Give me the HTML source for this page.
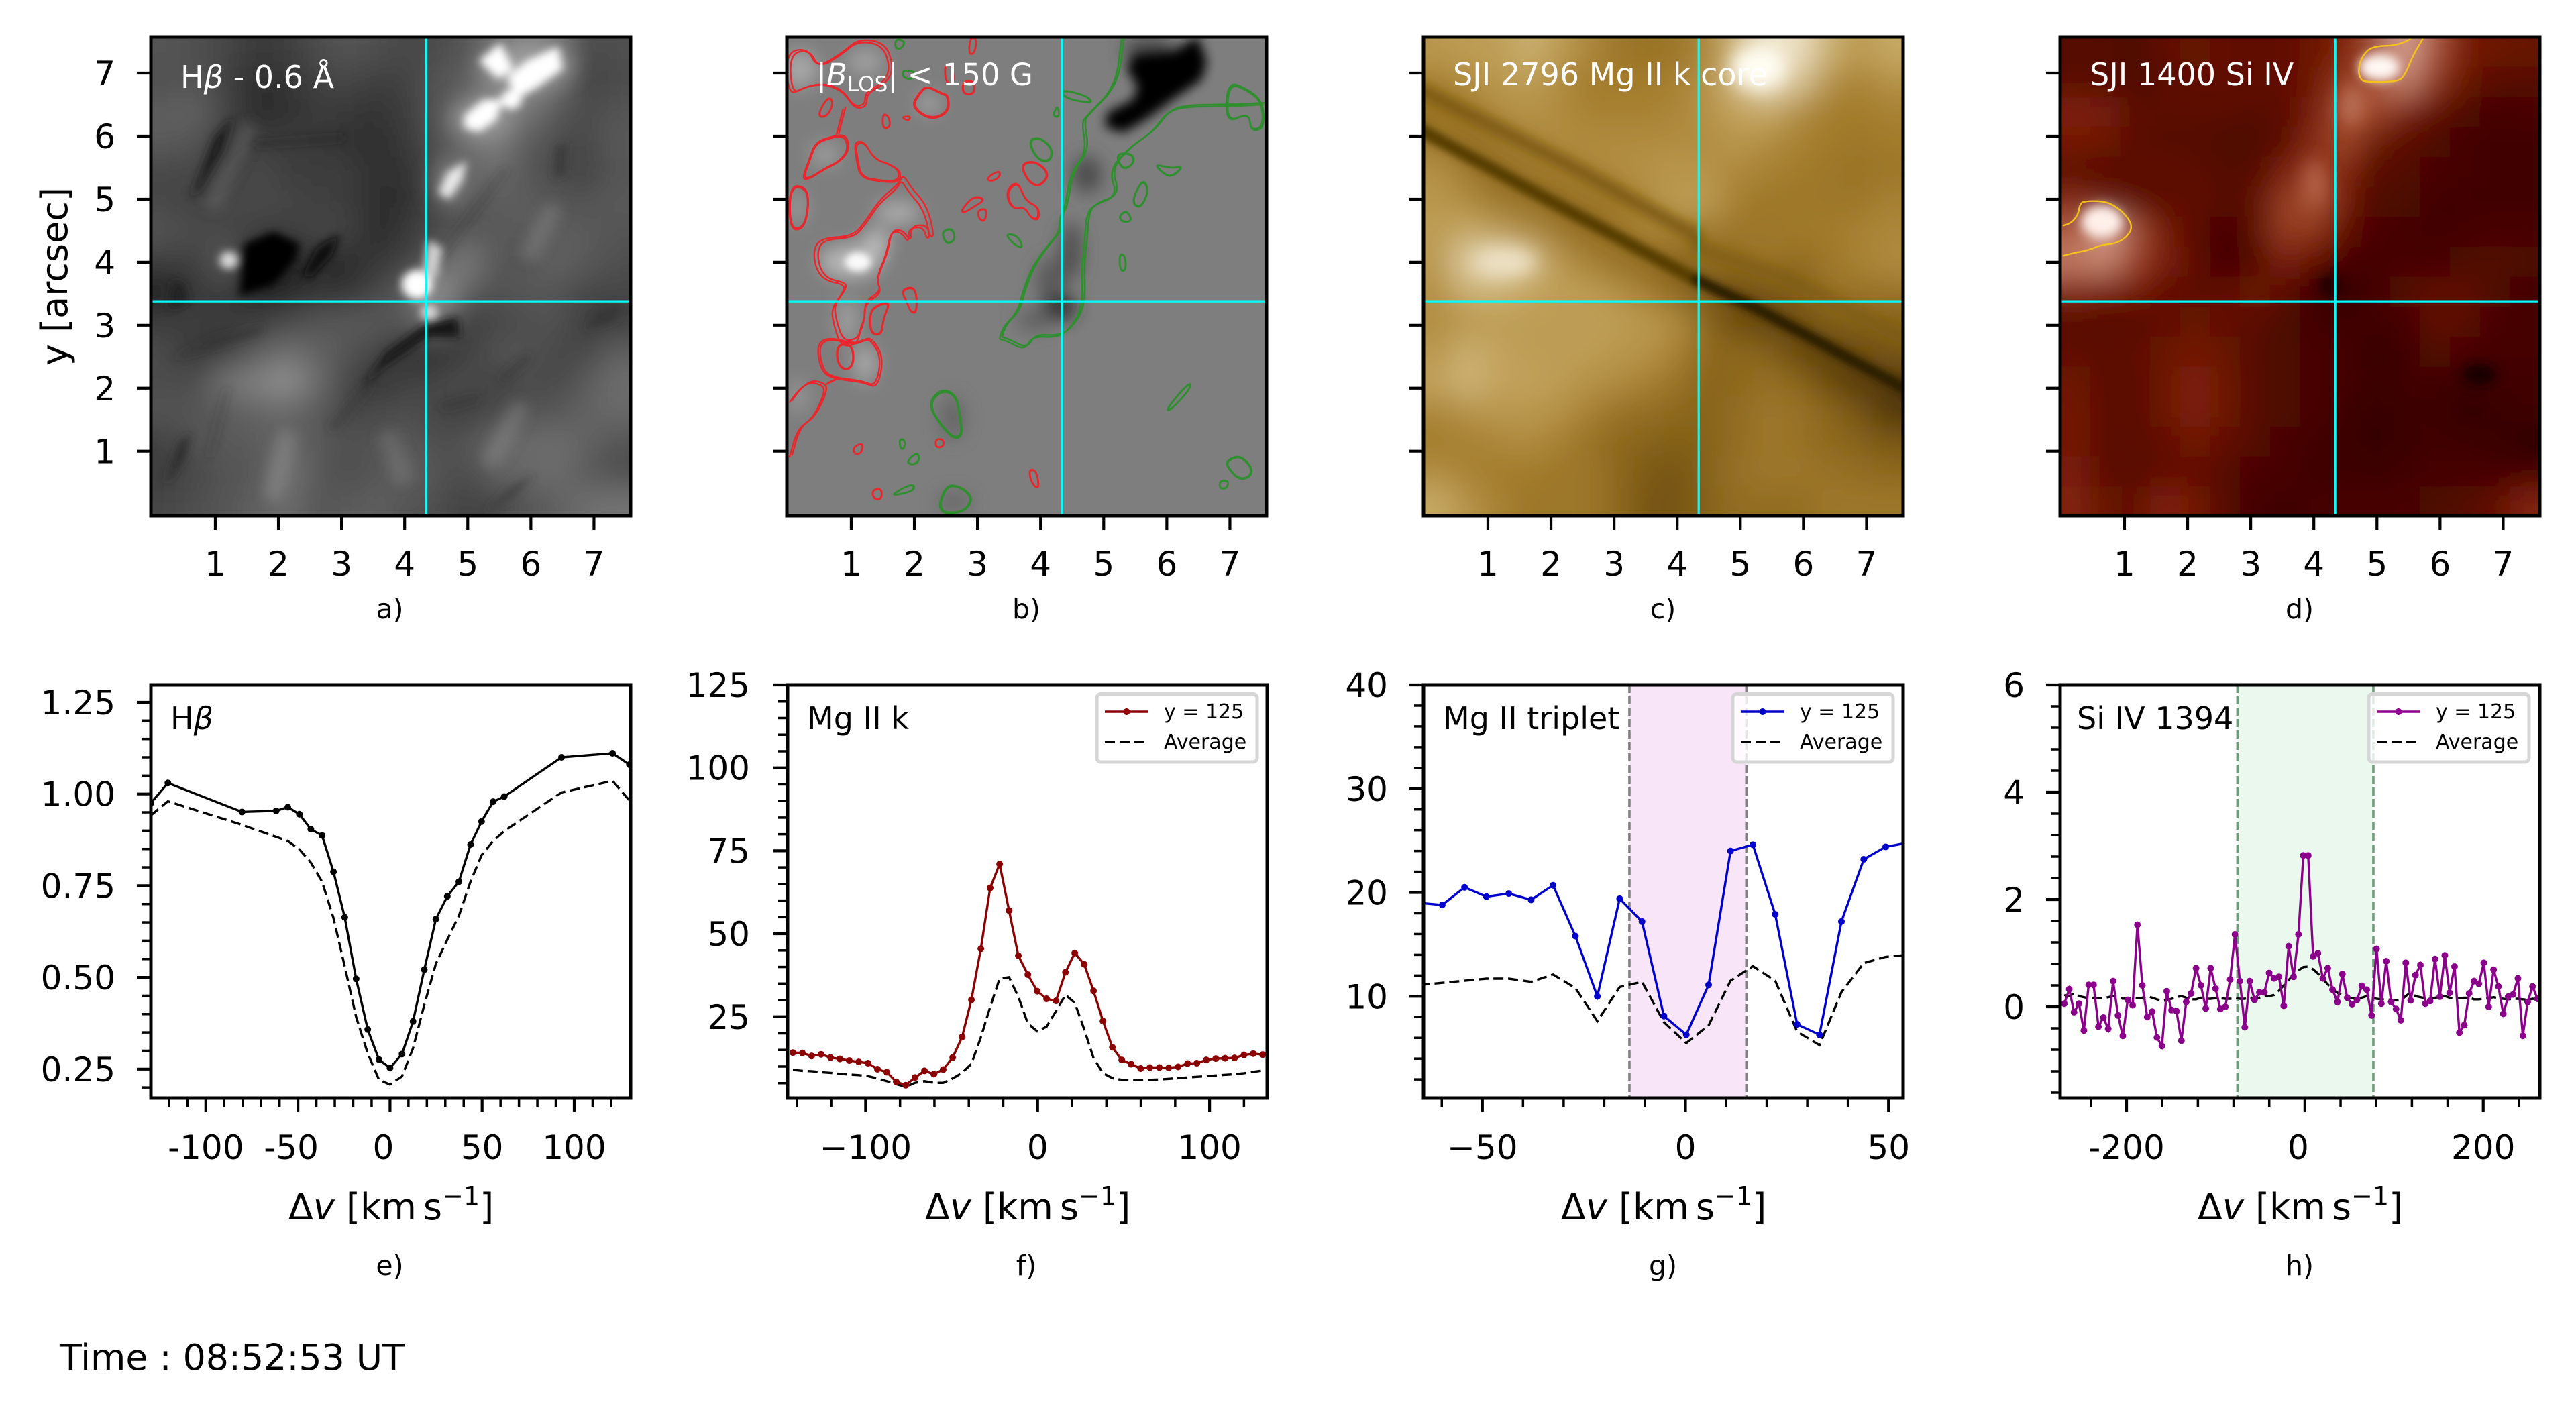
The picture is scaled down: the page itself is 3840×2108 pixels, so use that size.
<!DOCTYPE html>
<html>
<head>
<meta charset="utf-8">
<title>Solar spectra and images</title>
<style>
html,body{margin:0;padding:0;background:#fff;}
svg{display:block;}
text{font-family:"DejaVu Sans","Liberation Sans",sans-serif;fill:#000;}
.ann{font-size:46px;}
.white{fill:#fff;}
.sub{font-size:41px;text-anchor:middle;}
.axl{font-size:54px;}
</style>
</head>
<body>
<svg id="figure" xmlns="http://www.w3.org/2000/svg" width="3840" height="2108" viewBox="0 0 3840 2108">
<defs>
<filter id="gridBlur" x="0" y="0" width="1" height="1"><feGaussianBlur stdDeviation="17"/><feGaussianBlur stdDeviation="17"/></filter>
<filter id="b6" filterUnits="userSpaceOnUse" x="-500" y="-500" width="3000" height="3000"><feGaussianBlur stdDeviation="6"/></filter>
<filter id="b10" filterUnits="userSpaceOnUse" x="-500" y="-500" width="3000" height="3000"><feGaussianBlur stdDeviation="10"/></filter>
<filter id="b15" filterUnits="userSpaceOnUse" x="-500" y="-500" width="3000" height="3000"><feGaussianBlur stdDeviation="15"/></filter>
<filter id="b25" filterUnits="userSpaceOnUse" x="-500" y="-500" width="3000" height="3000"><feGaussianBlur stdDeviation="25"/></filter>
<clipPath id="clip-a"><rect x="225" y="55" width="715" height="714"/></clipPath>
<clipPath id="clip-b"><rect x="1173" y="55" width="715" height="714"/></clipPath>
<clipPath id="clip-c"><rect x="2122" y="55" width="715" height="714"/></clipPath>
<clipPath id="clip-d"><rect x="3071" y="55" width="715" height="714"/></clipPath>
</defs>
<rect width="3840" height="2108" fill="#fff"/>

<g id="images">
<!-- panel a -->
<g clip-path="url(#clip-a)">
<g id="grid-a" filter="url(#gridBlur)"></g>
<g transform="scale(0.6378,0.6059)">
<g filter="url(#b25)">
<ellipse cx="1120" cy="290" rx="70" ry="50" fill="#a8a8a8" opacity="0.7"/>
<ellipse cx="1230" cy="160" rx="110" ry="50" fill="#a8a8a8" opacity="0.7"/>
<ellipse cx="1050" cy="450" rx="40" ry="60" fill="#999" opacity="0.6"/>
</g>
<g filter="url(#b15)" fill="none" stroke-linecap="round">
<line x1="1150" y1="1130" x2="1210" y2="1010" stroke="#a0a0a0" stroke-width="44" opacity="0.3"/>
<line x1="1240" y1="620" x2="1290" y2="520" stroke="#9a9a9a" stroke-width="44" opacity="0.3"/>
<line x1="640" y1="1210" x2="670" y2="1080" stroke="#a0a0a0" stroke-width="44" opacity="0.35"/>
<line x1="940" y1="1170" x2="910" y2="1080" stroke="#909090" stroke-width="44" opacity="0.3"/>
<line x1="500" y1="500" x2="580" y2="320" stroke="#8a8a8a" stroke-width="36" opacity="0.3"/>
</g>
<g filter="url(#b10)" fill="none" stroke-linecap="round">
<line x1="600" y1="355" x2="800" y2="340" stroke="#222" stroke-width="16" opacity="0.45"/>
<line x1="780" y1="1050" x2="860" y2="950" stroke="#333" stroke-width="20" opacity="0.45"/>
<line x1="1180" y1="930" x2="1230" y2="880" stroke="#333" stroke-width="20" opacity="0.45"/>
<line x1="1040" y1="1000" x2="1110" y2="980" stroke="#333" stroke-width="20" opacity="0.4"/>
<line x1="1020" y1="640" x2="1180" y2="420" stroke="#333" stroke-width="14" opacity="0.35"/>
<line x1="490" y1="1120" x2="530" y2="960" stroke="#333" stroke-width="12" opacity="0.3"/>
</g>
<g filter="url(#b10)">
<polygon points="570,600 640,570 700,600 690,640 640,700 560,730" fill="#050505"/>
<polygon points="705,680 740,610 795,575 775,630 730,680" fill="#0a0a0a"/>
<polygon points="445,490 500,340 545,285 520,370 470,460" fill="#1c1c1c"/>
<polygon points="845,955 900,870 990,800 1070,780 1075,830 1000,830 900,900" fill="#151515"/>
<polygon points="385,1195 420,1090 445,1065 430,1130" fill="#2a2a2a"/>
<polygon points="395,760 405,690 430,700 440,745" fill="#222"/>
<polygon points="400,885 500,830 620,800 600,825 480,860" fill="#333" opacity="0.7"/>
<polygon points="1130,1265 1190,1200 1250,1165 1200,1225" fill="#3a3a3a" opacity="0.7"/>
<polygon points="1295,440 1300,360 1325,350 1320,430" fill="#333" opacity="0.7"/>
<polygon points="1370,810 1400,760 1455,745 1440,790" fill="#333" opacity="0.8"/>
</g>
<g filter="url(#b10)">
<polygon points="1085,285 1130,245 1175,245 1160,295 1120,325 1085,315" fill="#fff"/>
<polygon points="1120,150 1170,105 1200,170 1165,195" fill="#fff"/>
<polygon points="1185,190 1230,150 1305,115 1315,170 1255,215 1205,245" fill="#fff"/>
<circle cx="1195" cy="245" r="24" fill="#fff"/>
<polygon points="1025,475 1045,425 1090,395 1080,445 1050,490" fill="#e8e8e8"/>
<circle cx="975" cy="700" r="36" fill="#fff"/>
<polygon points="990,660 1000,590 1035,610 1020,690" fill="#d0d0d0"/>
<circle cx="1003" cy="768" r="20" fill="#d8d8d8"/>
<circle cx="535" cy="640" r="22" fill="#d8d8d8"/>
</g>
</g>
</g>

<!-- panel b -->
<g clip-path="url(#clip-b)">
<g transform="translate(1100,0) scale(0.5421,0.5421)">
<rect x="100" y="60" width="1400" height="1400" fill="#7e7e7e"/>
<g filter="url(#b25)">
<ellipse cx="170" cy="190" rx="50" ry="50" fill="#a8a8a8"/>
<ellipse cx="350" cy="170" rx="50" ry="35" fill="#a2a2a2"/>
<ellipse cx="240" cy="425" rx="40" ry="30" fill="#a0a0a0"/>
<ellipse cx="525" cy="285" rx="28" ry="28" fill="#a8a8a8"/>
<ellipse cx="440" cy="585" rx="60" ry="30" fill="#aeaeae"/>
<ellipse cx="310" cy="720" rx="85" ry="45" fill="#b8b8b8"/>
<ellipse cx="380" cy="670" rx="35" ry="40" fill="#bcbcbc"/>
<ellipse cx="300" cy="880" rx="25" ry="60" fill="#a4a4a4"/>
<ellipse cx="350" cy="1000" rx="30" ry="50" fill="#acacac"/>
<ellipse cx="165" cy="1090" rx="25" ry="40" fill="#9a9a9a"/>
<ellipse cx="165" cy="570" rx="20" ry="45" fill="#a0a0a0"/>
<ellipse cx="590" cy="1150" rx="35" ry="60" fill="#666"/>
<ellipse cx="595" cy="1380" rx="50" ry="25" fill="#666"/>
<ellipse cx="960" cy="480" rx="40" ry="50" fill="#484848"/>
<ellipse cx="915" cy="690" rx="30" ry="80" fill="#4e4e4e"/>
<ellipse cx="860" cy="770" rx="40" ry="60" fill="#5a5a5a"/>
<ellipse cx="885" cy="845" rx="45" ry="35" fill="#2a2a2a"/>
<ellipse cx="815" cy="880" rx="50" ry="30" fill="#606060"/>
<ellipse cx="1130" cy="140" rx="70" ry="40" fill="#4a4a4a"/>
</g>
<g filter="url(#b15)">
<polygon points="1070,190 1090,150 1200,140 1265,100 1290,170 1275,220 1200,270 1120,330 1060,365 1010,350 1015,310 1085,275 1100,240" fill="#000"/>
</g>
<g filter="url(#b10)">
<ellipse cx="330" cy="720" rx="36" ry="26" fill="#fafafa"/>
</g>
</g>
</g>

<!-- panel c -->
<g clip-path="url(#clip-c)">
<g id="grid-c" filter="url(#gridBlur)"></g>
<g transform="translate(2080,0) scale(0.5102,0.5421)">
<g filter="url(#b15)" fill="none" stroke-linecap="round">
<polyline points="60,240 500,450 880,650" stroke="#7a5812" stroke-width="40" opacity="0.9"/>
<polyline points="880,680 1130,760 1500,935" stroke="#7f5c14" stroke-width="40" opacity="0.75"/>
</g>
<g filter="url(#b10)" fill="none" stroke-linecap="round">
<polyline points="60,350 400,525 880,770" stroke="#573c05" stroke-width="36"/>
<polyline points="880,770 1060,850 1500,1075" stroke="#2a1c00" stroke-width="32"/>
</g>
<g filter="url(#b25)">
<ellipse cx="1060" cy="185" rx="80" ry="60" fill="#fffdf3"/>
<ellipse cx="320" cy="720" rx="90" ry="35" fill="#eee3c8"/>
</g>
</g>
</g>

<!-- panel d -->
<g clip-path="url(#clip-d)">
<g id="grid-d" filter="url(#gridBlur)"></g>
<g transform="translate(3030,0) scale(0.5166,0.5421)">
<g filter="url(#b25)">
<ellipse cx="815" cy="500" rx="30" ry="60" fill="#bb6a52" opacity="0.8"/>
<ellipse cx="920" cy="290" rx="35" ry="55" fill="#c07a62" opacity="0.8"/>
</g>
<g filter="url(#b15)">
<ellipse cx="1290" cy="1030" rx="50" ry="28" fill="#120000"/>
<ellipse cx="860" cy="785" rx="35" ry="30" fill="#220200"/>
<ellipse cx="1000" cy="185" rx="60" ry="38" fill="#fff8f4"/>
<ellipse cx="200" cy="610" rx="60" ry="45" fill="#fff0ea"/>
</g>
</g>
</g>
</g>

<g id="marks"></g>

<g id="annotations">
<text class="ann white" x="269" y="131">H<tspan font-style="italic">β</tspan> - 0.6 Å</text>
<text class="white" font-size="45" x="1217" y="127">|<tspan font-style="italic">B</tspan><tspan font-size="31" dy="9">LOS</tspan><tspan dy="-9">| &lt; 150 G</tspan></text>
<text class="ann white" x="2166" y="127">SJI 2796 Mg II k core</text>
<text class="ann white" x="3115" y="127">SJI 1400 Si IV</text>
<text class="ann" x="254" y="1087">H<tspan font-style="italic">β</tspan></text>
<text class="ann" x="1203" y="1087">Mg II k</text>
<text class="ann" x="2151" y="1087">Mg II triplet</text>
<text class="ann" x="3096" y="1087">Si IV 1394</text>
<text class="axl" transform="translate(100,412) rotate(-90)" text-anchor="middle">y [arcsec]</text>
<text class="sub" x="581" y="922">a)</text>
<text class="sub" x="1530" y="922">b)</text>
<text class="sub" x="2479" y="922">c)</text>
<text class="sub" x="3428" y="922">d)</text>
<text class="sub" x="581" y="1901">e)</text>
<text class="sub" x="1530" y="1901">f)</text>
<text class="sub" x="2479" y="1901">g)</text>
<text class="sub" x="3428" y="1901">h)</text>
<text class="axl" x="583" y="1818" text-anchor="middle">Δ<tspan font-style="italic">v</tspan> [km<tspan dx="10">s</tspan><tspan font-size="38" dy="-22">−1</tspan><tspan dy="22">]</tspan></text>
<text class="axl" x="1532" y="1818" text-anchor="middle">Δ<tspan font-style="italic">v</tspan> [km<tspan dx="10">s</tspan><tspan font-size="38" dy="-22">−1</tspan><tspan dy="22">]</tspan></text>
<text class="axl" x="2480" y="1818" text-anchor="middle">Δ<tspan font-style="italic">v</tspan> [km<tspan dx="10">s</tspan><tspan font-size="38" dy="-22">−1</tspan><tspan dy="22">]</tspan></text>
<text class="axl" x="3429" y="1818" text-anchor="middle">Δ<tspan font-style="italic">v</tspan> [km<tspan dx="10">s</tspan><tspan font-size="38" dy="-22">−1</tspan><tspan dy="22">]</tspan></text>
<text x="89" y="2042" font-size="53.7">Time : 08:52:53 UT</text>
</g>
</svg>

<script>
// ---------- chart data ----------
const hbetaVelocity = [-130,-120.6,-80.4,-61.8,-55.5,-49.2,-43,-36.9,-30.7,-24.6,-18.4,-12.1,-6,0,6.5,12.5,18.6,24.9,31.1,37.4,43.7,49.7,56,62,93.1,120.8,130];
const hbetaProfile = [0.974,1.03,0.951,0.954,0.964,0.945,0.904,0.887,0.788,0.664,0.496,0.358,0.276,0.253,0.291,0.38,0.521,0.659,0.721,0.761,0.862,0.925,0.979,0.993,1.1,1.111,1.08];
const hbetaAverage = [0.941,0.98,0.916,0.883,0.872,0.849,0.813,0.761,0.662,0.53,0.392,0.293,0.221,0.208,0.23,0.307,0.425,0.537,0.603,0.668,0.761,0.833,0.872,0.899,1.004,1.036,0.982];
const hbetaXTicks = [-100,-50,0,50,100];
const hbetaXLabels = ['-100','-50','0','50','100'];
const hbetaYTicks = [0.25,0.5,0.75,1,1.25];
const hbetaYLabels = ['0.25','0.50','0.75','1.00','1.25'];

const mgkVelocity = [-142.3,-136.8,-131.4,-125.9,-120.4,-115,-109.5,-104,-98.6,-93.1,-87.7,-82.2,-76.7,-71.3,-65.8,-60.3,-54.9,-49.4,-43.9,-38.5,-33,-27.6,-22.1,-16.6,-11.2,-5.7,-0.2,5.2,10.7,16.2,21.6,27.1,32.5,38,43.5,48.9,54.4,59.9,65.3,70.8,76.2,81.7,87.2,92.6,98.1,103.6,109,114.5,120,125.4,130.9];
const mgkProfile = [14.2,14.1,13.2,13.7,12.7,12.3,11.8,11.4,11,9.2,8.3,5.4,4.4,6.7,8.7,7.7,9.1,12.7,18.9,30.1,45.5,63.8,71,57,43.4,37.7,32.7,30.4,29.8,38.4,44.2,40.8,32.8,23.7,15.8,12,10.7,9.4,9.7,9.7,9.6,9.9,10.9,11,12,12.4,12.5,12.6,13.5,13.9,13.6];
const mgkAverage = [9,8.7,8.6,8.3,8.1,7.8,7.6,7.4,7.1,6.4,5.6,4.7,3.9,5.1,5.6,5.1,5.1,6.4,8.1,10.8,18.8,27.9,36.5,36.9,31,23,20.6,22,26.7,31.6,29.2,21.2,12.6,8,6.5,6,5.9,5.9,6,6.1,6.3,6.5,6.7,6.9,7.1,7.3,7.5,7.7,8,8.4,8.8];
const mgkXTicks = [-100,0,100];
const mgkXLabels = ['−100','0','100'];
const mgkYTicks = [25,50,75,100,125];
const mgkYLabels = ['25','50','75','100','125'];

const tripletVelocity = [-65.4,-59.9,-54.4,-49,-43.5,-38,-32.6,-27.1,-21.7,-16.2,-10.7,-5.3,0.2,5.7,11.1,16.6,22.1,27.5,33,38.4,43.9,49.3,54.8];
const tripletProfile = [19,18.8,20.5,19.6,19.9,19.3,20.7,15.8,10,19.4,17.2,8.1,6.3,11.1,24,24.6,17.9,7.3,6.3,17.2,23.2,24.4,24.8];
const tripletAverage = [11.1,11.3,11.5,11.7,11.7,11.4,12.1,10.8,7.6,10.9,11.4,7.5,5.5,7.2,11.5,12.9,11.5,6.6,5.3,10.4,13.2,13.8,14];
const tripletBand = [-13.8,15];
const tripletXTicks = [-50,0,50];
const tripletXLabels = ['−50','0','50'];
const tripletYTicks = [10,20,30,40];
const tripletYLabels = ['10','20','30','40'];

const siivVelocity = [-269.8,-264.3,-258.9,-253.4,-247.9,-242.5,-237,-231.5,-226,-220.6,-215.1,-209.6,-204.2,-198.7,-193.2,-187.8,-182.3,-176.8,-171.3,-165.9,-160.4,-154.9,-149.5,-144,-138.5,-133.1,-127.6,-122.1,-116.6,-111.2,-105.7,-100.2,-94.8,-89.3,-83.8,-78.4,-72.9,-67.4,-61.9,-56.5,-51,-45.5,-40.1,-34.6,-29.1,-23.7,-18.2,-12.7,-7.2,-1.8,3.7,9.2,14.6,20.1,25.6,31,36.5,42,47.5,52.9,58.4,63.9,69.3,74.8,80.3,85.7,91.2,96.7,102.2,107.6,113.1,118.6,124,129.5,135,140.4,145.9,151.4,156.9,162.3,167.8,173.3,178.7,184.2,189.7,195.1,200.6,206.1,211.6,217,222.5,228,233.4,238.9,244.4,249.8,255.3,260.8];
const siivProfile = [0.06,0.33,-0.1,0.06,-0.44,0.41,0.41,-0.37,-0.2,-0.41,0.48,-0.16,-0.54,0.13,0.03,1.53,0.4,-0.19,-0.09,-0.57,-0.73,0.29,-0.06,-0.08,-0.63,0.09,0.25,0.72,0.4,-0.03,0.72,0.34,-0.04,0,0.51,1.35,0.48,-0.38,0.48,0.13,0.27,0.27,0.63,0.53,0.56,0.02,1.13,0.56,1.35,2.82,2.82,0.94,1,0.53,0.72,0.32,0.09,0.61,0.17,0.05,0.13,0.39,0.32,-0.16,1.08,0.06,0.85,0.09,-0.04,-0.25,0.82,0.12,0.59,0.78,0.06,0.11,0.89,0.19,0.96,0.26,0.75,-0.48,-0.34,0.25,0.48,0.43,0.82,0,0.69,0.38,-0.13,0.19,0.23,0.53,-0.54,0.09,0.38,0.15];
const siivAverage = [0.22,0.2,0.25,0.2,0.18,0.16,0.17,0.16,0.16,0.18,0.2,0.18,0.15,0.16,0.17,0.16,0.17,0.2,0.17,0.14,0.11,0.12,0.15,0.18,0.2,0.17,0.14,0.14,0.17,0.15,0.15,0.16,0.16,0.15,0.15,0.17,0.15,0.15,0.18,0.15,0.17,0.2,0.2,0.22,0.3,0.4,0.5,0.6,0.68,0.74,0.75,0.7,0.62,0.52,0.42,0.33,0.26,0.22,0.18,0.16,0.15,0.17,0.2,0.17,0.15,0.14,0.14,0.13,0.12,0.12,0.2,0.27,0.2,0.18,0.16,0.14,0.17,0.18,0.2,0.17,0.16,0.16,0.17,0.17,0.14,0.14,0.15,0.16,0.18,0.16,0.15,0.14,0.15,0.15,0.14,0.13,0.15,0.14];
const siivBand = [-75.6,76.8];
const siivXTicks = [-200,0,200];
const siivXLabels = ['-200','0','200'];
const siivYTicks = [0,2,4,6];
const siivYLabels = ['0','2','4','6'];

const imageTicks = [1,2,3,4,5,6,7];
const imageTickLabels = ['1','2','3','4','5','6','7'];
const crosshairArcsec = [4.34,3.38];

// coarse image intensities, rows top to bottom
const hbetaGrid = [
[85,80,70,55,60,75,85,80,70,75,85,110,130,125,70,80],
[80,85,65,45,50,65,70,60,65,85,95,130,150,120,60,75],
[95,100,70,40,45,60,55,50,60,85,95,135,120,85,75,85],
[90,85,55,65,60,55,50,45,55,80,110,130,90,80,70,90],
[70,70,55,75,60,60,60,45,50,70,100,110,85,75,65,85],
[70,65,70,75,70,65,60,45,45,70,85,90,95,85,85,90],
[85,75,70,60,60,70,70,40,55,75,85,90,90,95,90,85],
[60,60,95,35,25,45,35,55,65,85,130,85,85,100,90,80],
[30,55,60,30,40,50,50,70,90,160,95,80,90,85,70,70],
[60,65,55,60,70,85,90,90,85,120,50,70,75,85,55,60],
[75,50,55,90,110,100,85,70,45,35,60,85,85,70,70,95],
[75,75,120,130,150,110,70,50,65,70,80,60,75,70,90,110],
[85,85,90,100,100,90,70,70,80,70,55,75,85,85,100,105],
[65,85,90,90,105,90,80,85,90,75,85,105,105,110,100,85],
[60,70,85,85,120,90,75,85,100,85,75,100,105,110,90,75],
[70,80,85,95,110,85,90,95,85,80,65,70,85,95,110,115]
];
const sji2796Grid = [
[70,72,72,78,72,64,58,56,58,64,80,94,92,78,70,76],
[62,66,70,72,66,60,60,60,62,68,82,92,84,68,62,68],
[55,60,66,68,66,62,62,62,64,68,74,76,66,60,60,62],
[58,52,58,64,66,66,66,66,66,66,70,66,62,60,58,60],
[68,58,52,56,60,64,66,68,70,68,64,62,60,58,56,58],
[70,66,58,54,52,56,60,66,72,72,60,58,58,58,58,62],
[72,76,72,66,58,52,56,62,62,58,58,58,60,60,62,64],
[70,88,90,84,70,62,54,52,50,54,54,58,52,58,62,66],
[68,78,78,74,72,72,68,60,50,44,40,45,50,56,56,56],
[66,70,72,72,72,72,72,70,66,50,40,30,38,48,50,50],
[70,78,74,72,72,72,70,68,62,52,52,50,35,30,40,46],
[74,80,74,74,72,68,66,62,56,50,52,55,52,40,25,28],
[64,68,70,70,68,62,56,54,52,50,54,58,56,52,45,25],
[60,62,64,66,62,56,52,50,48,50,54,58,56,52,50,45],
[66,62,60,60,58,58,52,46,44,50,56,58,58,56,54,52],
[76,68,62,58,58,58,52,44,44,50,54,54,54,58,58,58]
];
const sji1400Grid = [
[35,35,32,38,40,38,38,38,42,48,58,80,60,45,42,40],
[35,35,32,36,38,38,38,38,42,55,62,72,52,40,34,34],
[48,46,36,36,36,36,34,36,46,60,58,46,38,32,28,30],
[45,42,36,34,34,32,32,36,50,58,40,36,32,28,26,26],
[36,34,36,38,36,34,34,46,56,48,34,34,30,28,25,25],
[50,42,36,36,38,34,36,55,62,44,32,32,26,26,26,26],
[62,80,60,44,36,28,36,55,52,38,30,28,26,28,30,30],
[70,72,55,46,38,24,34,46,38,28,28,30,28,32,34,32],
[48,44,44,38,36,38,42,36,26,18,28,34,38,38,32,28],
[34,34,34,38,40,38,36,32,26,26,26,28,38,36,30,28],
[38,36,38,40,44,40,34,32,30,28,20,24,34,30,28,28],
[42,36,36,42,48,42,34,32,30,28,22,26,26,22,26,26],
[44,36,36,42,48,42,34,32,30,26,18,24,26,14,20,26],
[44,36,36,38,44,38,34,30,26,24,18,24,26,26,22,14],
[46,36,34,38,38,34,30,30,24,24,24,26,28,28,28,28],
[48,40,38,48,44,34,28,24,28,30,28,30,32,34,38,48]
];

// contour lines, arcsec pairs
const redClosed = [
[[.02,7.31],[.35,7.37],[.48,7.07],[.87,7.31],[1.1,7.51],[1.5,7.45],[1.62,7.07],[1.5,6.84],[1.22,6.7],[1.22,6.5],[1.04,6.47],[.87,6.73],[.58,6.84],[.29,6.79],[.06,6.66]],
[[.58,6.55],[.47,6.32],[.61,6.31],[.71,6.5],[.67,6.61]],
[[.44,5.89],[.7,5.98],[.9,6],[.95,5.78],[.81,5.6],[.58,5.49],[.35,5.34],[.24,5.34],[.35,5.63]],
[[1.07,5.89],[1.22,5.89],[1.33,5.69],[1.45,5.6],[1.56,5.57],[1.76,5.46],[1.74,5.29],[1.5,5.29],[1.16,5.35],[1.1,5.63]],
[[1.79,5.31],[1.91,5.11],[2.14,4.85],[2.25,4.42],[2.2,4.36],[2.14,4.56],[1.91,4.54],[1.91,4.3],[1.79,4.48],[1.62,4.48],[1.56,4.13],[1.39,3.73],[1.48,3.55],[1.22,3.38],[1.22,3.15],[1.16,2.98],[1.1,2.78],[.87,2.75],[.76,3.09],[.73,3.32],[.9,3.55],[.93,3.67],[.64,3.73],[.5,3.9],[.46,4.19],[.58,4.36],[1.04,4.39],[1.22,4.59],[1.45,4.94],[1.73,5.17]],
[[1.33,3.27],[1.62,3.38],[1.5,3.09],[1.48,2.86],[1.32,2.87],[1.3,3.09]],
[[1.79,3.55],[2.02,3.61],[2.04,3.21],[1.94,3.21],[1.88,3.38]],
[[.52,2.72],[.7,2.78],[1.04,2.69],[1.19,2.75],[1.3,2.78],[1.48,2.49],[1.39,2.03],[1.19,2.11],[.99,2.14],[.76,2.17],[.58,2.25],[.5,2.51]],
[[.78,2.69],[1.01,2.69],[1.04,2.4],[.92,2.28],[.78,2.4]],
[[.03,5.2],[.29,5.17],[.32,4.88],[.24,4.54],[.03,4.54]],
[[2.08,6.67],[2.2,6.79],[2.43,6.67],[2.53,6.64],[2.53,6.38],[2.25,6.27],[1.97,6.47]],
[[2.74,4.82],[2.94,5.05],[3.12,4.99],[2.94,4.88],[2.8,4.79]],
[[3,4.82],[3.15,4.85],[3.12,4.65],[3.03,4.68]],
[[3.46,5.11],[3.64,5.28],[3.76,4.97],[3.96,4.88],[3.96,4.68],[3.84,4.71],[3.75,4.88],[3.55,4.85]],
[[3.69,5.55],[3.92,5.6],[4.14,5.4],[3.98,5.2],[3.81,5.28]],
[[3.15,5.34],[3.35,5.46],[3.35,5.34],[3.2,5.28]],
[[1.04,1.07],[1.19,1.13],[1.16,.96],[1.04,.96]],
[[2.34,1.19],[2.46,1.19],[2.46,1.07],[2.34,1.06]],
[[3.81,.7],[3.93,.7],[3.98,.41],[3.87,.47]],
[[1.33,.38],[1.48,.41],[1.48,.24],[1.36,.24]],
[[1.5,6.35],[1.59,6.32],[1.62,6.15],[1.5,6.12]],
[[1.79,6.3],[1.94,6.32],[1.91,6.24]],
[[2.89,7.57],[2.99,7.54],[2.95,7.31],[2.86,7.31]],
[[2.77,6.87],[2.95,6.87],[2.95,6.67],[2.77,6.67]],
[[2.48,7.13],[2.6,7.13],[2.63,6.84],[2.5,6.84]]
];
const redOpen = [
[[.02,1.77],[.24,2.11],[.58,2.05],[.55,1.85],[.38,1.51],[.15,1.36],[.02,.9]],
[[.58,2.05],[.76,2.14]],
[[.76,6],[.87,6.43]]
];
const greenClosed = [
[[3.81,5.92],[3.98,5.98],[4.18,5.81],[4.15,5.6],[3.95,5.63]],
[[2.23,1.74],[2.43,1.97],[2.66,1.88],[2.72,1.53],[2.75,1.27],[2.63,1.21],[2.43,1.41]],
[[6,1.68],[6.35,2.09],[6.38,2],[6.06,1.65]],
[[5.48,5.05],[5.62,5.31],[5.71,5.14],[5.6,4.88],[5.48,4.91]],
[[5.83,5.55],[6.06,5.49],[6.26,5.52],[6.06,5.34],[5.89,5.46]],
[[6.95,.84],[7.15,.93],[7.33,.76],[7.33,.61],[7.15,.55],[6.98,.73]],
[[6.84,.53],[6.98,.53],[6.95,.41],[6.84,.41]],
[[2.43,4.48],[2.6,4.54],[2.65,4.36],[2.51,4.28]],
[[3.44,4.45],[3.64,4.42],[3.72,4.22],[3.58,4.28]],
[[2.37,.03],[2.51,.47],[2.77,.41],[2.92,.24],[2.77,.03]],
[[1.65,.32],[1.97,.49],[2,.38],[1.74,.31]],
[[1.88,.84],[2.05,.99],[2.08,.84],[1.96,.78]],
[[5.25,4.13],[5.34,4.1],[5.35,3.87],[5.26,3.87]],
[[5.25,4.74],[5.37,4.82],[5.45,4.65],[5.28,4.64]],
[[6.98,6.84],[7.27,6.73],[7.5,6.55],[7.53,6.15],[7.33,6.09],[7.3,6.38],[6.95,6.21]],
[[4.33,6.74],[4.73,6.64],[4.82,6.52],[4.39,6.6]],
[[5.19,5.72],[5.45,5.72],[5.48,5.57],[5.3,5.46]],
[[1.82,7.05],[2.02,7.02],[1.97,6.9],[1.82,6.93]],
[[1.7,7.54],[1.85,7.51],[1.8,7.39],[1.7,7.39]],
[[1.76,1.19],[1.85,1.18],[1.84,1.04],[1.78,1.04]],
[[4.19,6.32],[4.27,6.5],[4.3,6.3]]
];
const greenOpen = [
[[3.35,2.78],[3.38,2.95],[3.64,3.21],[3.72,3.55],[3.87,3.93],[4.1,4.25],[4.3,4.48],[4.3,4.71],[4.39,4.88],[4.47,5.4],[4.73,5.75],[4.65,6.21],[4.73,6.32],[5.19,6.79],[5.28,7.54]],
[[7.53,6.5],[6.98,6.47],[6.29,6.47],[6,6.38],[5.77,6.06],[5.42,5.83],[5.08,5.46],[5.22,5.05],[4.85,4.91],[4.73,4.77],[4.7,4.36],[4.65,3.96],[4.67,3.32],[4.5,2.98],[4.27,2.8],[3.87,2.83],[3.75,2.6],[3.46,2.75],[3.35,2.78]]
];
const yellowOpen = [
[[.02,4.58],[.13,4.6],[.26,4.74],[.29,4.91],[.35,4.97],[.68,4.97],[.87,4.88],[1.03,4.74],[1.13,4.56],[1.03,4.39],[.84,4.29],[.65,4.28],[.43,4.19],[.21,4.15],[.02,4.1]],
[[5.54,7.55],[5.37,7.44],[4.93,7.43],[4.77,7.28],[4.7,7.05],[4.74,6.9],[4.82,6.86],[5.32,6.86],[5.44,6.96],[5.57,7.28],[5.73,7.55]]
];

// ---------- drawing ----------
const NS = 'http://www.w3.org/2000/svg';
const marks = document.getElementById('marks');
function svgEl(tag, parent) {
  const el = document.createElementNS(NS, tag);
  parent.appendChild(el);
  return el;
}
function range(a, b, step) {
  const out = [];
  const n = Math.round((b - a) / step);
  for (let i = 0; i <= n; i++) out.push(a + i * step);
  return out;
}
function linearScale(d0, d1, r0, r1) {
  return v => r0 + (v - d0) / (d1 - d0) * (r1 - r0);
}
function ramp(stops) {
  return v => {
    let i = 0;
    while (i < stops.length - 2 && v > stops[i + 1][0]) i++;
    const a = stops[i], b = stops[i + 1];
    const t = Math.max(0, Math.min(1, (v - a[0]) / (b[0] - a[0])));
    const c = [1, 2, 3].map(k => Math.round(a[k] + (b[k] - a[k]) * t));
    return 'rgb(' + c.join(',') + ')';
  };
}
const grayRamp = ramp([[0, 0, 0, 0], [255, 255, 255, 255]]);
const sepiaRamp = ramp([[0, 26, 16, 0], [40, 107, 74, 12], [60, 163, 124, 44], [75, 196, 165, 95], [90, 232, 218, 184], [100, 255, 253, 245]]);
const redRamp = ramp([[0, 20, 0, 0], [30, 72, 6, 0], [45, 118, 24, 5], [60, 168, 80, 48], [80, 219, 168, 152], [100, 255, 248, 244]]);
function drawImageGrid(targetId, grid, left, top, size, colorFn) {
  const target = document.getElementById(targetId);
  const rows = grid.length, cols = grid[0].length;
  const cw = size / cols, ch = size / rows;
  for (let r = -3; r < rows + 3; r++) {
    for (let c = -3; c < cols + 3; c++) {
      const rr = Math.max(0, Math.min(rows - 1, r));
      const cc = Math.max(0, Math.min(cols - 1, c));
      const cell = svgEl('rect', target);
      
      
      cell.setAttribute('x', left + c * cw);
      cell.setAttribute('y', top + r * ch);
      cell.setAttribute('width', cw + 1);
      cell.setAttribute('height', ch + 1);
      cell.setAttribute('fill', colorFn(grid[rr][cc]));
    }
  }
}
drawImageGrid('grid-a', hbetaGrid, 225, 55, 715, grayRamp);
drawImageGrid('grid-c', sji2796Grid, 2122, 55, 715, sepiaRamp);
drawImageGrid('grid-d', sji1400Grid, 3071, 55, 715, redRamp);

function tickLine(parent, x1, y1, x2, y2, width) {
  const t = svgEl('line', parent);
  
  
  t.setAttribute('x1', x1);
  t.setAttribute('y1', y1);
  t.setAttribute('x2', x2);
  t.setAttribute('y2', y2);
  t.setAttribute('stroke', '#000');
  t.setAttribute('stroke-width', width);
}
function tickText(parent, x, y, anchor, str) {
  const t = svgEl('text', parent);
  
  
  t.setAttribute('x', x);
  t.setAttribute('y', y);
  t.setAttribute('font-size', 50);
  t.setAttribute('text-anchor', anchor);
  t.textContent = str;
}
function drawAxes(c) {
  const g = svgEl('g', marks);
  
  
  const x = linearScale(c.xlim[0], c.xlim[1], c.left, c.right);
  const y = linearScale(c.ylim[0], c.ylim[1], c.bottom, c.top);
  c.xMinor.forEach(v => { if (x(v) >= c.left && x(v) <= c.right) tickLine(g, x(v), c.bottom, x(v), c.bottom + 14, 3.5); });
  c.yMinor.forEach(v => { if (y(v) >= c.top - 1 && y(v) <= c.bottom) tickLine(g, c.left - 14, y(v), c.left, y(v), 3.5); });
  c.xTicks.forEach((v, i) => {
    tickLine(g, x(v), c.bottom, x(v), c.bottom + 21, 4.2);
    const nudge = (c.labelNudge && c.labelNudge[c.xLabels[i]]) || 0;
    tickText(g, x(v) + nudge, c.xLabelBase, 'middle', c.xLabels[i]);
  });
  c.yTicks.forEach((v, i) => {
    tickLine(g, c.left - 21, y(v), c.left, y(v), 4.2);
    if (c.yLabels) tickText(g, c.yLabelRight, y(v) + 18, 'end', c.yLabels[i]);
  });
  return { g, x, y };
}
function frame(g, c) {
  const r = svgEl('rect', g);
  
  
  r.setAttribute('x', c.left);
  r.setAttribute('y', c.top);
  r.setAttribute('width', c.right - c.left);
  r.setAttribute('height', c.bottom - c.top);
  r.setAttribute('fill', 'none');
  r.setAttribute('stroke', '#000');
  r.setAttribute('stroke-width', 5);
}
function smoothPath(pts, closed, sx, sy) {
  const p = pts.map(q => [sx(q[0]), sy(q[1])]);
  if (p.length < 3) return 'M' + p.map(q => q.join(',')).join('L');
  if (closed) {
    const m0 = [(p[0][0] + p[1][0]) / 2, (p[0][1] + p[1][1]) / 2];
    let d = 'M' + m0.join(',');
    for (let i = 1; i <= p.length; i++) {
      const a = p[i % p.length], b = p[(i + 1) % p.length];
      d += 'Q' + a[0] + ',' + a[1] + ' ' + (a[0] + b[0]) / 2 + ',' + (a[1] + b[1]) / 2;
    }
    return d + 'Z';
  }
  let d = 'M' + p[0].join(',');
  for (let i = 1; i < p.length - 1; i++) {
    const a = p[i], b = p[i + 1];
    d += 'Q' + a[0] + ',' + a[1] + ' ' + (a[0] + b[0]) / 2 + ',' + (a[1] + b[1]) / 2;
  }
  return d + 'L' + p[p.length - 1].join(',');
}
function grow(pts, k) {
  const cx = pts.reduce((s, q) => s + q[0], 0) / pts.length;
  const cy = pts.reduce((s, q) => s + q[1], 0) / pts.length;
  return pts.map(q => [cx + (q[0] - cx) * k, cy + (q[1] - cy) * k]);
}
function contour(g, pts, closed, color, sx, sy, width) {
  const p = svgEl('path', g);
  
  
  p.setAttribute('d', smoothPath(pts, closed, sx, sy));
  p.setAttribute('fill', 'none');
  p.setAttribute('stroke', color);
  p.setAttribute('stroke-width', width);
}
function crosshair(g, ax, c) {
  const v = svgEl('line', g);
  
  
  v.setAttribute('x1', ax.x(crosshairArcsec[0]));
  v.setAttribute('x2', ax.x(crosshairArcsec[0]));
  v.setAttribute('y1', c.top);
  v.setAttribute('y2', c.bottom);
  v.setAttribute('stroke', '#00ffff');
  v.setAttribute('stroke-width', 3.2);
  const h = svgEl('line', g);
  
  
  h.setAttribute('x1', c.left);
  h.setAttribute('x2', c.right);
  h.setAttribute('y1', ax.y(crosshairArcsec[1]));
  h.setAttribute('y2', ax.y(crosshairArcsec[1]));
  h.setAttribute('stroke', '#00ffff');
  h.setAttribute('stroke-width', 3.2);
}

const imgLefts = [225, 1173, 2122, 3071];
const imgNames = ['panel-a-axes', 'panel-b-axes', 'panel-c-axes', 'panel-d-axes'];
const minorNone = [];
imgLefts.forEach((left, i) => {
  const c = {
    name: imgNames[i], left, right: left + 715, top: 55, bottom: 769,
    xlim: [-0.02, 7.58], ylim: [-0.025, 7.575],
    xTicks: imageTicks, xLabels: imageTickLabels, xMinor: minorNone,
    yTicks: imageTicks, yLabels: i === 0 ? imageTickLabels : null, yMinor: minorNone,
    xLabelBase: 858, yLabelRight: 172
  };
  const ax = drawAxes(c);
  const clip = 'clip-' + 'abcd'[i];
  const inner = svgEl('g', ax.g);
  
  
  inner.setAttribute('clip-path', 'url(#' + clip + ')');
  if (i === 1) {
    redClosed.forEach(pts => {
      contour(inner, pts, true, '#e8262c', ax.x, ax.y, 2.4);
      contour(inner, grow(pts, 1.07), true, '#e8262c', ax.x, ax.y, 2.4);
    });
    redOpen.forEach(pts => {
      contour(inner, pts, false, '#e8262c', ax.x, ax.y, 2.4);
      contour(inner, pts.map(q => [q[0] + 0.04, q[1] + 0.03]), false, '#e8262c', ax.x, ax.y, 2.4);
    });
    greenClosed.forEach(pts => {
      contour(inner, pts, true, '#2f8f2f', ax.x, ax.y, 2.6);
      contour(inner, grow(pts, 1.07), true, '#2f8f2f', ax.x, ax.y, 2.6);
    });
    greenOpen.forEach(pts => {
      contour(inner, pts, false, '#2f8f2f', ax.x, ax.y, 2.6);
      contour(inner, pts.map(q => [q[0] + 0.04, q[1] + 0.03]), false, '#2f8f2f', ax.x, ax.y, 2.6);
    });
  }
  if (i === 3) {
    yellowOpen.forEach(pts => contour(inner, pts, false, '#f5c21a', ax.x, ax.y, 2.4));
  }
  crosshair(inner, ax, c);
  frame(ax.g, c);
});

function polylinePoints(xs, ys, ax) {
  const n = Math.min(xs.length, ys.length);
  const out = [];
  for (let i = 0; i < n; i++) out.push(ax.x(xs[i]) + ',' + ax.y(ys[i]));
  return out.join(' ');
}
let clipCount = 0;
function drawProfile(c) {
  const ax = drawAxes(c);
  const id = 'plot-clip-' + (clipCount++);
  const cp = svgEl('clipPath', ax.g);
  cp.setAttribute('id', id);
  const cr = svgEl('rect', cp);
  cr.setAttribute('x', c.left);
  cr.setAttribute('y', c.top);
  cr.setAttribute('width', c.right - c.left);
  cr.setAttribute('height', c.bottom - c.top);
  const plot = svgEl('g', ax.g);
  
  
  plot.setAttribute('clip-path', 'url(#' + id + ')');
  if (c.band) {
    const b = svgEl('rect', plot);
    
    
    b.setAttribute('x', ax.x(c.band[0]));
    b.setAttribute('y', c.top);
    b.setAttribute('width', ax.x(c.band[1]) - ax.x(c.band[0]));
    b.setAttribute('height', c.bottom - c.top);
    b.setAttribute('fill', c.bandColor);
    c.band.forEach(v => {
      const l = svgEl('line', plot);
      
      
      l.setAttribute('x1', ax.x(v));
      l.setAttribute('x2', ax.x(v));
      l.setAttribute('y1', c.top);
      l.setAttribute('y2', c.bottom);
      l.setAttribute('stroke', c.bandLine);
      l.setAttribute('stroke-width', 3.6);
      l.setAttribute('stroke-dasharray', '12 5');
    });
  }
  const avg = svgEl('polyline', plot);
  
  
  avg.setAttribute('points', polylinePoints(c.xs, c.avg, ax));
  avg.setAttribute('fill', 'none');
  avg.setAttribute('stroke', '#000');
  avg.setAttribute('stroke-width', 3.4);
  avg.setAttribute('stroke-dasharray', '15 7');
  const line = svgEl('polyline', plot);
  
  
  line.setAttribute('points', polylinePoints(c.xs, c.ys, ax));
  line.setAttribute('fill', 'none');
  line.setAttribute('stroke', c.color);
  line.setAttribute('stroke-width', 3.4);
  const n = Math.min(c.xs.length, c.ys.length);
  for (let i = 0; i < n; i++) {
    const m = svgEl('circle', plot);
    
    
    m.setAttribute('cx', ax.x(c.xs[i]));
    m.setAttribute('cy', ax.y(c.ys[i]));
    m.setAttribute('r', 5);
    m.setAttribute('fill', c.color);
  }
  if (c.legendRight) {
    const right = c.legendRight, left = right - 239;
    const box = svgEl('rect', ax.g);
    
    
    box.setAttribute('x', left);
    box.setAttribute('y', 1034.5);
    box.setAttribute('width', 239);
    box.setAttribute('height', 101.5);
    box.setAttribute('rx', 6);
    box.setAttribute('fill', 'rgba(255,255,255,0.8)');
    box.setAttribute('stroke', '#d6d6d6');
    box.setAttribute('stroke-width', 5);
    const h1 = svgEl('line', ax.g);
    
    
    h1.setAttribute('x1', left + 12);
    h1.setAttribute('x2', left + 77);
    h1.setAttribute('y1', 1061);
    h1.setAttribute('y2', 1061);
    h1.setAttribute('stroke', c.color);
    h1.setAttribute('stroke-width', 3.4);
    const h1m = svgEl('circle', ax.g);
    
    
    h1m.setAttribute('cx', left + 44.5);
    h1m.setAttribute('cy', 1061);
    h1m.setAttribute('r', 5);
    h1m.setAttribute('fill', c.color);
    const h2 = svgEl('line', ax.g);
    
    
    h2.setAttribute('x1', left + 12);
    h2.setAttribute('x2', left + 77);
    h2.setAttribute('y1', 1106);
    h2.setAttribute('y2', 1106);
    h2.setAttribute('stroke', '#000');
    h2.setAttribute('stroke-width', 3.4);
    h2.setAttribute('stroke-dasharray', '15 7');
    const t1 = svgEl('text', ax.g);
    
    
    t1.setAttribute('x', left + 100);
    t1.setAttribute('y', 1071);
    t1.setAttribute('font-size', 30);
    t1.textContent = 'y = 125';
    const t2 = svgEl('text', ax.g);
    
    
    t2.setAttribute('x', left + 100);
    t2.setAttribute('y', 1116);
    t2.setAttribute('font-size', 30);
    t2.textContent = 'Average';
  }
  frame(ax.g, c);
}

drawProfile({
  name: 'panel-e-axes', left: 225, right: 940, top: 1021, bottom: 1637,
  xlim: [-129.8, 130.6], ylim: [0.171, 1.2975],
  xTicks: hbetaXTicks, xLabels: hbetaXLabels, xMinor: range(-120, 120, 10),
  yTicks: hbetaYTicks, yLabels: hbetaYLabels, yMinor: range(0.2, 1.3, 0.05),
  xLabelBase: 1728, yLabelRight: 172, labelNudge: { '-50': -10, '0': -10 },
  xs: hbetaVelocity, ys: hbetaProfile, avg: hbetaAverage, color: '#000000'
});
drawProfile({
  name: 'panel-f-axes', left: 1174, right: 1889, top: 1021, bottom: 1637,
  xlim: [-145.4, 133.5], ylim: [0.5, 125],
  xTicks: mgkXTicks, xLabels: mgkXLabels, xMinor: range(-140, 120, 20),
  yTicks: mgkYTicks, yLabels: mgkYLabels, yMinor: range(5, 120, 5),
  xLabelBase: 1728, yLabelRight: 1118,
  xs: mgkVelocity, ys: mgkProfile, avg: mgkAverage, color: '#8b0000', legendRight: 1874
});
drawProfile({
  name: 'panel-g-axes', left: 2122, right: 2837, top: 1021, bottom: 1637,
  xlim: [-64.5, 53.6], ylim: [0.2, 40],
  xTicks: tripletXTicks, xLabels: tripletXLabels, xMinor: range(-60, 50, 10),
  yTicks: tripletYTicks, yLabels: tripletYLabels, yMinor: range(2, 38, 2),
  xLabelBase: 1728, yLabelRight: 2069,
  xs: tripletVelocity, ys: tripletProfile, avg: tripletAverage, color: '#0000cd', legendRight: 2822,
  band: tripletBand, bandColor: '#f8e6f8', bandLine: '#808080'
});
drawProfile({
  name: 'panel-h-axes', left: 3071, right: 3786, top: 1021, bottom: 1637,
  xlim: [-274.5, 263.4], ylim: [-1.7, 6],
  xTicks: siivXTicks, xLabels: siivXLabels, xMinor: range(-240, 240, 40),
  yTicks: siivYTicks, yLabels: siivYLabels, yMinor: range(-1.6, 5.6, 0.4),
  xLabelBase: 1728, yLabelRight: 3018, labelNudge: { '0': -10 },
  xs: siivVelocity, ys: siivProfile, avg: siivAverage, color: '#8b008b', legendRight: 3770,
  band: siivBand, bandColor: '#ebf8ee', bandLine: '#6f9a7c'
});
</script>
</body>
</html>
